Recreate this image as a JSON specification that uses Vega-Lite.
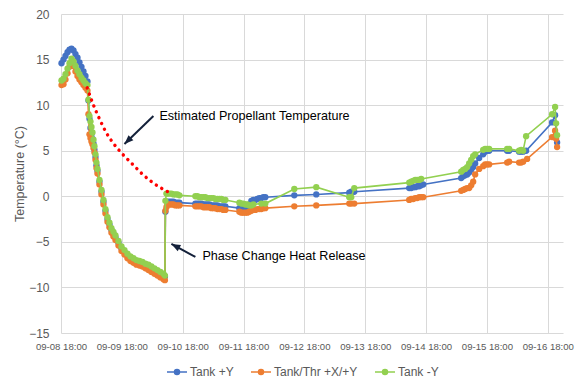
{
  "$schema": "https://vega.github.io/schema/vega-lite/v6.json",
  "width": 502,
  "height": 319,
  "autosize": {"type": "none"},
  "padding": {"left": 61, "top": 14, "right": 14, "bottom": 48},
  "background": "#ffffff",
  "config": {
    "view": {"stroke": null},
    "font": "Liberation Sans",
    "axis": {"labelFont": "Liberation Sans", "titleFont": "Liberation Sans", "labelColor": "#595959", "titleColor": "#595959", "gridColor": "#d9d9d9", "gridWidth": 1, "domain": false, "ticks": false, "tickSize": 0}
  },
  "datasets": {
    "series": [
      {"t": "2021-09-08T18:12", "Tank +Y": 14.6, "Tank/Thr +X/+Y": 12.2, "Tank -Y": 12.7},
      {"t": "2021-09-08T18:59", "Tank +Y": 15.0, "Tank/Thr +X/+Y": 12.3, "Tank -Y": 12.9},
      {"t": "2021-09-08T19:46", "Tank +Y": 15.4, "Tank/Thr +X/+Y": 12.8, "Tank -Y": 13.4},
      {"t": "2021-09-08T20:34", "Tank +Y": 15.8, "Tank/Thr +X/+Y": 13.5, "Tank -Y": 14.0},
      {"t": "2021-09-08T21:21", "Tank +Y": 16.1, "Tank/Thr +X/+Y": 14.2, "Tank -Y": 14.6},
      {"t": "2021-09-08T22:08", "Tank +Y": 16.2, "Tank/Thr +X/+Y": 14.7, "Tank -Y": 15.1},
      {"t": "2021-09-08T22:56", "Tank +Y": 16.0, "Tank/Thr +X/+Y": 14.3, "Tank -Y": 14.8},
      {"t": "2021-09-08T23:43", "Tank +Y": 15.6, "Tank/Thr +X/+Y": 13.7, "Tank -Y": 14.3},
      {"t": "2021-09-09T00:30", "Tank +Y": 15.2, "Tank/Thr +X/+Y": 13.2, "Tank -Y": 13.8},
      {"t": "2021-09-09T01:17", "Tank +Y": 14.7, "Tank/Thr +X/+Y": 12.8, "Tank -Y": 13.4},
      {"t": "2021-09-09T02:05", "Tank +Y": 14.2, "Tank/Thr +X/+Y": 12.5, "Tank -Y": 13.0},
      {"t": "2021-09-09T02:52", "Tank +Y": 13.7, "Tank/Thr +X/+Y": 12.2, "Tank -Y": 12.7},
      {"t": "2021-09-09T03:39", "Tank +Y": 13.2, "Tank/Thr +X/+Y": 11.9, "Tank -Y": 12.4},
      {"t": "2021-09-09T04:26", "Tank +Y": 12.6, "Tank/Thr +X/+Y": 11.6, "Tank -Y": 12.2},
      {"t": "2021-09-09T04:50", "Tank +Y": 10.5, "Tank/Thr +X/+Y": 9.0, "Tank -Y": 10.6},
      {"t": "2021-09-09T05:14", "Tank +Y": 8.5, "Tank/Thr +X/+Y": 6.8, "Tank -Y": 8.8},
      {"t": "2021-09-09T05:38", "Tank +Y": 7.5, "Tank/Thr +X/+Y": 6.4, "Tank -Y": 8.2},
      {"t": "2021-09-09T06:01", "Tank +Y": 6.8, "Tank/Thr +X/+Y": 6.0, "Tank -Y": 7.6},
      {"t": "2021-09-09T06:25", "Tank +Y": 6.3, "Tank/Thr +X/+Y": 5.7, "Tank -Y": 7.0},
      {"t": "2021-09-09T06:49", "Tank +Y": 5.8, "Tank/Thr +X/+Y": 5.3, "Tank -Y": 6.2},
      {"t": "2021-09-09T07:12", "Tank +Y": 5.1, "Tank/Thr +X/+Y": 4.8, "Tank -Y": 5.5},
      {"t": "2021-09-09T07:36", "Tank +Y": 4.3, "Tank/Thr +X/+Y": 4.0, "Tank -Y": 4.6},
      {"t": "2021-09-09T07:59", "Tank +Y": 3.4, "Tank/Thr +X/+Y": 3.1, "Tank -Y": 3.7},
      {"t": "2021-09-09T08:23", "Tank +Y": 2.8, "Tank/Thr +X/+Y": 2.5, "Tank -Y": 3.0},
      {"t": "2021-09-09T09:10", "Tank +Y": 1.6, "Tank/Thr +X/+Y": 1.3, "Tank -Y": 1.8},
      {"t": "2021-09-09T09:58", "Tank +Y": 0.5, "Tank/Thr +X/+Y": 0.2, "Tank -Y": 0.7},
      {"t": "2021-09-09T10:45", "Tank +Y": -0.6, "Tank/Thr +X/+Y": -0.9, "Tank -Y": -0.4},
      {"t": "2021-09-09T11:32", "Tank +Y": -1.6, "Tank/Thr +X/+Y": -1.9, "Tank -Y": -1.4},
      {"t": "2021-09-09T12:20", "Tank +Y": -2.5, "Tank/Thr +X/+Y": -2.8, "Tank -Y": -2.3},
      {"t": "2021-09-09T13:07", "Tank +Y": -3.1, "Tank/Thr +X/+Y": -3.4, "Tank -Y": -2.9},
      {"t": "2021-09-09T13:54", "Tank +Y": -3.7, "Tank/Thr +X/+Y": -4.0, "Tank -Y": -3.5},
      {"t": "2021-09-09T14:41", "Tank +Y": -4.1, "Tank/Thr +X/+Y": -4.4, "Tank -Y": -3.9},
      {"t": "2021-09-09T15:29", "Tank +Y": -4.5, "Tank/Thr +X/+Y": -4.8, "Tank -Y": -4.3},
      {"t": "2021-09-09T16:40", "Tank +Y": -5.1, "Tank/Thr +X/+Y": -5.4, "Tank -Y": -4.9},
      {"t": "2021-09-09T17:51", "Tank +Y": -5.7, "Tank/Thr +X/+Y": -6.0, "Tank -Y": -5.5},
      {"t": "2021-09-09T19:02", "Tank +Y": -6.1, "Tank/Thr +X/+Y": -6.4, "Tank -Y": -5.9},
      {"t": "2021-09-09T20:13", "Tank +Y": -6.5, "Tank/Thr +X/+Y": -6.8, "Tank -Y": -6.3},
      {"t": "2021-09-09T21:24", "Tank +Y": -6.8, "Tank/Thr +X/+Y": -7.1, "Tank -Y": -6.6},
      {"t": "2021-09-09T22:35", "Tank +Y": -7.0, "Tank/Thr +X/+Y": -7.3, "Tank -Y": -6.8},
      {"t": "2021-09-09T23:45", "Tank +Y": -7.2, "Tank/Thr +X/+Y": -7.5, "Tank -Y": -7.0},
      {"t": "2021-09-10T00:56", "Tank +Y": -7.3, "Tank/Thr +X/+Y": -7.6, "Tank -Y": -7.1},
      {"t": "2021-09-10T02:07", "Tank +Y": -7.4, "Tank/Thr +X/+Y": -7.7, "Tank -Y": -7.2},
      {"t": "2021-09-10T03:18", "Tank +Y": -7.6, "Tank/Thr +X/+Y": -7.9, "Tank -Y": -7.4},
      {"t": "2021-09-10T04:29", "Tank +Y": -7.7, "Tank/Thr +X/+Y": -8.1, "Tank -Y": -7.5},
      {"t": "2021-09-10T05:40", "Tank +Y": -7.9, "Tank/Thr +X/+Y": -8.3, "Tank -Y": -7.7},
      {"t": "2021-09-10T06:51", "Tank +Y": -8.1, "Tank/Thr +X/+Y": -8.5, "Tank -Y": -7.9},
      {"t": "2021-09-10T08:02", "Tank +Y": -8.3, "Tank/Thr +X/+Y": -8.7, "Tank -Y": -8.1},
      {"t": "2021-09-10T09:13", "Tank +Y": -8.5, "Tank/Thr +X/+Y": -8.9, "Tank -Y": -8.3},
      {"t": "2021-09-10T10:24", "Tank +Y": -8.7, "Tank/Thr +X/+Y": -9.1, "Tank -Y": -8.5},
      {"t": "2021-09-10T10:59", "Tank +Y": -8.8, "Tank/Thr +X/+Y": -9.2, "Tank -Y": -8.7},
      {"t": "2021-09-10T11:11", "Tank +Y": -1.7, "Tank/Thr +X/+Y": -1.6, "Tank -Y": -0.5},
      {"t": "2021-09-10T11:35", "Tank/Thr +X/+Y": -1.2, "Tank -Y": 0.3},
      {"t": "2021-09-10T11:58", "Tank +Y": -0.6, "Tank/Thr +X/+Y": -0.9, "Tank -Y": 0.3},
      {"t": "2021-09-10T12:46", "Tank +Y": -0.6, "Tank/Thr +X/+Y": -0.9, "Tank -Y": 0.3},
      {"t": "2021-09-10T13:33", "Tank +Y": -0.6, "Tank/Thr +X/+Y": -0.9, "Tank -Y": 0.3},
      {"t": "2021-09-10T14:20", "Tank +Y": -0.6, "Tank/Thr +X/+Y": -0.9, "Tank -Y": 0.2},
      {"t": "2021-09-10T15:07", "Tank +Y": -0.7, "Tank/Thr +X/+Y": -1.0, "Tank -Y": 0.2},
      {"t": "2021-09-10T15:55", "Tank +Y": -0.7, "Tank/Thr +X/+Y": -1.0, "Tank -Y": 0.2},
      {"t": "2021-09-10T16:42", "Tank +Y": -0.7, "Tank/Thr +X/+Y": -1.0, "Tank -Y": 0.1},
      {"t": "2021-09-10T23:00", "Tank +Y": -0.8, "Tank/Thr +X/+Y": -1.1, "Tank -Y": 0.0},
      {"t": "2021-09-10T23:48", "Tank +Y": -0.8, "Tank/Thr +X/+Y": -1.1, "Tank -Y": 0.0},
      {"t": "2021-09-11T00:35", "Tank +Y": -0.8, "Tank/Thr +X/+Y": -1.1, "Tank -Y": -0.1},
      {"t": "2021-09-11T01:22", "Tank +Y": -0.8, "Tank/Thr +X/+Y": -1.1, "Tank -Y": -0.1},
      {"t": "2021-09-11T02:10", "Tank +Y": -0.9, "Tank/Thr +X/+Y": -1.2, "Tank -Y": -0.1},
      {"t": "2021-09-11T02:57", "Tank +Y": -0.9, "Tank/Thr +X/+Y": -1.2, "Tank -Y": -0.1},
      {"t": "2021-09-11T03:44", "Tank +Y": -0.9, "Tank/Thr +X/+Y": -1.2, "Tank -Y": -0.2},
      {"t": "2021-09-11T04:31", "Tank +Y": -0.9, "Tank/Thr +X/+Y": -1.2, "Tank -Y": -0.2},
      {"t": "2021-09-11T05:19", "Tank +Y": -1.0, "Tank/Thr +X/+Y": -1.3, "Tank -Y": -0.2},
      {"t": "2021-09-11T06:06", "Tank +Y": -1.0, "Tank/Thr +X/+Y": -1.3, "Tank -Y": -0.2},
      {"t": "2021-09-11T06:53", "Tank +Y": -1.0, "Tank/Thr +X/+Y": -1.3, "Tank -Y": -0.3},
      {"t": "2021-09-11T07:41", "Tank +Y": -1.0, "Tank/Thr +X/+Y": -1.4, "Tank -Y": -0.3},
      {"t": "2021-09-11T08:28", "Tank +Y": -1.1, "Tank/Thr +X/+Y": -1.4, "Tank -Y": -0.3},
      {"t": "2021-09-11T09:15", "Tank +Y": -1.1, "Tank/Thr +X/+Y": -1.4, "Tank -Y": -0.3},
      {"t": "2021-09-11T10:02", "Tank +Y": -1.1, "Tank/Thr +X/+Y": -1.5, "Tank -Y": -0.4},
      {"t": "2021-09-11T10:50", "Tank +Y": -1.1, "Tank/Thr +X/+Y": -1.5, "Tank -Y": -0.4},
      {"t": "2021-09-11T16:21", "Tank +Y": -1.3, "Tank/Thr +X/+Y": -1.7, "Tank -Y": -0.7},
      {"t": "2021-09-11T17:08", "Tank +Y": -1.4, "Tank/Thr +X/+Y": -1.8, "Tank -Y": -0.8},
      {"t": "2021-09-11T17:55", "Tank +Y": -1.4, "Tank/Thr +X/+Y": -1.8, "Tank -Y": -0.8},
      {"t": "2021-09-11T18:43", "Tank +Y": -1.4, "Tank/Thr +X/+Y": -1.8, "Tank -Y": -0.9},
      {"t": "2021-09-11T19:30", "Tank +Y": -1.3, "Tank/Thr +X/+Y": -1.8, "Tank -Y": -0.9},
      {"t": "2021-09-11T20:17", "Tank +Y": -0.9, "Tank/Thr +X/+Y": -1.7, "Tank -Y": -1.0},
      {"t": "2021-09-11T21:05", "Tank +Y": -0.5, "Tank/Thr +X/+Y": -1.6, "Tank -Y": -1.0},
      {"t": "2021-09-11T21:52", "Tank +Y": -0.4, "Tank/Thr +X/+Y": -1.5, "Tank -Y": -0.9},
      {"t": "2021-09-11T22:39", "Tank +Y": -0.4, "Tank/Thr +X/+Y": -1.5},
      {"t": "2021-09-11T23:26", "Tank +Y": -0.3, "Tank/Thr +X/+Y": -1.4},
      {"t": "2021-09-12T00:14", "Tank +Y": -0.2, "Tank/Thr +X/+Y": -1.4},
      {"t": "2021-09-12T01:01", "Tank +Y": -0.2, "Tank/Thr +X/+Y": -1.4, "Tank -Y": -0.8},
      {"t": "2021-09-12T01:48", "Tank +Y": -0.1, "Tank/Thr +X/+Y": -1.3},
      {"t": "2021-09-12T02:35", "Tank +Y": -0.1, "Tank/Thr +X/+Y": -1.3, "Tank -Y": -0.8},
      {"t": "2021-09-12T14:01", "Tank +Y": 0.1, "Tank/Thr +X/+Y": -1.1, "Tank -Y": 0.8},
      {"t": "2021-09-12T22:41", "Tank +Y": 0.2, "Tank/Thr +X/+Y": -1.0, "Tank -Y": 1.0},
      {"t": "2021-09-13T11:42", "Tank +Y": 0.4, "Tank/Thr +X/+Y": -0.8, "Tank -Y": -0.1},
      {"t": "2021-09-13T12:29", "Tank +Y": 0.5, "Tank/Thr +X/+Y": -0.8, "Tank -Y": -0.1},
      {"t": "2021-09-13T13:40", "Tank +Y": 0.5, "Tank/Thr +X/+Y": -0.8, "Tank -Y": 0.9},
      {"t": "2021-09-14T11:20", "Tank +Y": 0.9, "Tank/Thr +X/+Y": -0.4, "Tank -Y": 1.5},
      {"t": "2021-09-14T12:08", "Tank +Y": 0.9, "Tank/Thr +X/+Y": -0.3, "Tank -Y": 1.6},
      {"t": "2021-09-14T12:55", "Tank +Y": 1.0, "Tank/Thr +X/+Y": -0.3, "Tank -Y": 1.7},
      {"t": "2021-09-14T13:43", "Tank +Y": 1.0, "Tank/Thr +X/+Y": -0.2, "Tank -Y": 1.8},
      {"t": "2021-09-14T14:30", "Tank +Y": 1.1, "Tank/Thr +X/+Y": -0.2, "Tank -Y": 1.8},
      {"t": "2021-09-14T15:17", "Tank +Y": 1.1, "Tank/Thr +X/+Y": -0.1, "Tank -Y": 1.8},
      {"t": "2021-09-14T16:04", "Tank +Y": 1.2, "Tank/Thr +X/+Y": -0.1, "Tank -Y": 1.9},
      {"t": "2021-09-14T16:52", "Tank +Y": 1.3, "Tank/Thr +X/+Y": -0.1},
      {"t": "2021-09-15T07:50", "Tank +Y": 2.0, "Tank/Thr +X/+Y": 0.6, "Tank -Y": 2.7},
      {"t": "2021-09-15T08:38", "Tank +Y": 2.2, "Tank/Thr +X/+Y": 0.7, "Tank -Y": 2.9},
      {"t": "2021-09-15T09:25", "Tank +Y": 2.3, "Tank/Thr +X/+Y": 0.8, "Tank -Y": 3.0},
      {"t": "2021-09-15T10:12", "Tank +Y": 2.4, "Tank/Thr +X/+Y": 0.9, "Tank -Y": 3.2},
      {"t": "2021-09-15T10:59", "Tank +Y": 2.6, "Tank/Thr +X/+Y": 0.9, "Tank -Y": 3.6},
      {"t": "2021-09-15T11:47", "Tank +Y": 2.9, "Tank/Thr +X/+Y": 1.2, "Tank -Y": 4.0},
      {"t": "2021-09-15T12:34", "Tank +Y": 3.2, "Tank/Thr +X/+Y": 1.6, "Tank -Y": 4.4},
      {"t": "2021-09-15T13:21", "Tank +Y": 3.6, "Tank/Thr +X/+Y": 2.4, "Tank -Y": 4.6},
      {"t": "2021-09-15T14:56", "Tank +Y": 4.2, "Tank/Thr +X/+Y": 3.0},
      {"t": "2021-09-15T16:31", "Tank +Y": 4.6, "Tank/Thr +X/+Y": 3.3, "Tank -Y": 5.1},
      {"t": "2021-09-15T17:17", "Tank +Y": 4.9, "Tank/Thr +X/+Y": 3.5, "Tank -Y": 5.2},
      {"t": "2021-09-15T18:05", "Tank +Y": 5.0, "Tank/Thr +X/+Y": 3.5, "Tank -Y": 5.2},
      {"t": "2021-09-15T18:52", "Tank +Y": 5.0, "Tank/Thr +X/+Y": 3.5, "Tank -Y": 5.2},
      {"t": "2021-09-16T01:58", "Tank +Y": 5.0, "Tank/Thr +X/+Y": 3.7, "Tank -Y": 5.2},
      {"t": "2021-09-16T02:45", "Tank +Y": 5.0, "Tank/Thr +X/+Y": 3.8, "Tank -Y": 5.2},
      {"t": "2021-09-16T06:41", "Tank +Y": 4.9, "Tank/Thr +X/+Y": 3.7, "Tank -Y": 5.0},
      {"t": "2021-09-16T07:29", "Tank +Y": 4.9, "Tank/Thr +X/+Y": 3.7, "Tank -Y": 5.1},
      {"t": "2021-09-16T08:16", "Tank +Y": 4.9, "Tank/Thr +X/+Y": 3.8, "Tank -Y": 5.0},
      {"t": "2021-09-16T09:27", "Tank +Y": 5.0, "Tank -Y": 6.6},
      {"t": "2021-09-16T09:51", "Tank/Thr +X/+Y": 4.1},
      {"t": "2021-09-16T19:42", "Tank +Y": 8.1, "Tank/Thr +X/+Y": 6.5, "Tank -Y": 9.0},
      {"t": "2021-09-16T20:53", "Tank +Y": 8.9, "Tank/Thr +X/+Y": 7.2, "Tank -Y": 9.8},
      {"t": "2021-09-16T21:17", "Tank/Thr +X/+Y": 6.3, "Tank -Y": 8.0},
      {"t": "2021-09-16T21:40", "Tank +Y": 5.9, "Tank/Thr +X/+Y": 5.4, "Tank -Y": 6.7}
    ],
    "estimate": [
      {"t": "2021-09-09T04:20", "v": 11.9},
      {"t": "2021-09-09T06:32", "v": 10.2},
      {"t": "2021-09-09T09:10", "v": 8.5},
      {"t": "2021-09-09T11:49", "v": 7.0},
      {"t": "2021-09-09T14:25", "v": 5.9},
      {"t": "2021-09-09T18:22", "v": 4.6},
      {"t": "2021-09-09T22:18", "v": 3.5},
      {"t": "2021-09-10T02:14", "v": 2.4},
      {"t": "2021-09-10T06:11", "v": 1.5},
      {"t": "2021-09-10T12:05", "v": 0.5}
    ],
    "arrows": [
      {"id": "a1", "end": "tail", "t": "2021-09-10T06:27", "v": 8.8},
      {"id": "a1", "end": "head", "t": "2021-09-09T19:02", "v": 5.74},
      {"id": "a2", "end": "tail", "t": "2021-09-10T23:00", "v": -6.66},
      {"id": "a2", "end": "head", "t": "2021-09-10T13:33", "v": -5.23}
    ],
    "notes": [
      {"t": "2021-09-10T08:49", "v": 8.8, "label": "Estimated Propellant Temperature"},
      {"t": "2021-09-11T01:46", "v": -6.6, "label": "Phase Change Heat Release"}
    ]
  },
  "encoding": {
    "x": {
      "field": "t", "type": "temporal", "title": null,
      "scale": {"domain": [{"year": 2021, "month": 9, "date": 8, "hours": 18}, {"year": 2021, "month": 9, "date": 17, "hours": 0}], "nice": false},
      "axis": {
        "values": [
          {"year": 2021, "month": 9, "date": 8, "hours": 18},
          {"year": 2021, "month": 9, "date": 9, "hours": 18},
          {"year": 2021, "month": 9, "date": 10, "hours": 18},
          {"year": 2021, "month": 9, "date": 11, "hours": 18},
          {"year": 2021, "month": 9, "date": 12, "hours": 18},
          {"year": 2021, "month": 9, "date": 13, "hours": 18},
          {"year": 2021, "month": 9, "date": 14, "hours": 18},
          {"year": 2021, "month": 9, "date": 15, "hours": 18},
          {"year": 2021, "month": 9, "date": 16, "hours": 18}
        ],
        "format": "%m-%d %H:%M", "formatType": "time",
        "labelFontSize": 9.6, "labelPadding": 8, "labelFlush": false, "labelOverlap": false, "grid": true, "title": null
      }
    },
    "y": {
      "field": "v", "type": "quantitative", "title": "Temperature (°C)",
      "scale": {"domain": [-15, 20], "nice": false},
      "axis": {
        "values": [-15, -10, -5, 0, 5, 10, 15, 20],
        "labelFontSize": 12, "labelPadding": 12, "grid": true,
        "titleFontSize": 12.5, "titleFontWeight": "normal", "titleX": -41.5, "titleY": 159.5, "titleBaseline": "middle", "titleAngle": -90
      }
    }
  },
  "layer": [
    {
      "data": {"name": "series"},
      "transform": [
        {"fold": ["Tank +Y", "Tank/Thr +X/+Y", "Tank -Y"], "as": ["series", "v"]},
        {"filter": "isValid(datum.v)"},
        {"filter": {"field": "series", "equal": "Tank +Y"}}
      ],
      "mark": {"type": "line", "strokeWidth": 1.6, "point": {"filled": true, "size": 40}},
      "encoding": {
        "color": {
          "field": "series", "type": "nominal",
          "scale": {"domain": ["Tank +Y", "Tank/Thr +X/+Y", "Tank -Y"], "range": ["#4472C4", "#ED7D31", "#92D050"]},
          "legend": {
            "title": null, "orient": "none", "legendX": 105, "legendY": 347, "direction": "horizontal", "padding": 0,
            "symbolType": "M-1,0H1M-0.25,0A0.25,0.25 0 1,0 0.25,0A0.25,0.25 0 1,0 -0.25,0",
            "symbolSize": 400, "symbolStrokeWidth": 1.5, "labelFont": "Liberation Sans", "labelFontSize": 12, "labelColor": "#595959", "labelOffset": 2, "columnPadding": 14,
            "encode": {"symbols": {"update": {"fill": {"scale": "color", "field": "value"}, "stroke": {"scale": "color", "field": "value"}, "opacity": {"value": 1}}}}
          }
        }
      }
    },
    {
      "data": {"name": "series"},
      "transform": [
        {"fold": ["Tank +Y", "Tank/Thr +X/+Y", "Tank -Y"], "as": ["series", "v"]},
        {"filter": "isValid(datum.v)"},
        {"filter": {"field": "series", "equal": "Tank/Thr +X/+Y"}}
      ],
      "mark": {"type": "line", "strokeWidth": 1.6, "point": {"filled": true, "size": 40}},
      "encoding": {"color": {"field": "series", "type": "nominal"}}
    },
    {
      "data": {"name": "series"},
      "transform": [
        {"fold": ["Tank +Y", "Tank/Thr +X/+Y", "Tank -Y"], "as": ["series", "v"]},
        {"filter": "isValid(datum.v)"},
        {"filter": {"field": "series", "equal": "Tank -Y"}}
      ],
      "mark": {"type": "line", "strokeWidth": 1.6, "point": {"filled": true, "size": 40}},
      "encoding": {"color": {"field": "series", "type": "nominal"}}
    },
    {
      "data": {"name": "estimate"},
      "mark": {"type": "line", "color": "#FF0000", "strokeWidth": 3.4, "strokeDash": [0.1, 6.3], "strokeCap": "round", "interpolate": "monotone"}
    },
    {
      "data": {"name": "arrows"},
      "mark": {"type": "line", "color": "#14213a", "strokeWidth": 2},
      "encoding": {"detail": {"field": "id", "type": "nominal"}}
    },
    {
      "data": {"name": "arrows"},
      "transform": [{"filter": "datum.end == 'head' && datum.id == 'a1'"}],
      "mark": {"type": "point", "shape": "M0,0L0.7,1.8L-0.7,1.8Z", "size": 100, "filled": true, "color": "#14213a", "opacity": 1, "angle": 226}
    },
    {
      "data": {"name": "arrows"},
      "transform": [{"filter": "datum.end == 'head' && datum.id == 'a2'"}],
      "mark": {"type": "point", "shape": "M0,0L0.7,1.8L-0.7,1.8Z", "size": 100, "filled": true, "color": "#14213a", "opacity": 1, "angle": 298}
    },
    {
      "data": {"name": "notes"},
      "mark": {"type": "text", "align": "left", "baseline": "middle", "font": "Liberation Sans", "fontSize": 12.6, "color": "#000000"},
      "encoding": {"text": {"field": "label", "type": "nominal"}}
    }
  ]
}
